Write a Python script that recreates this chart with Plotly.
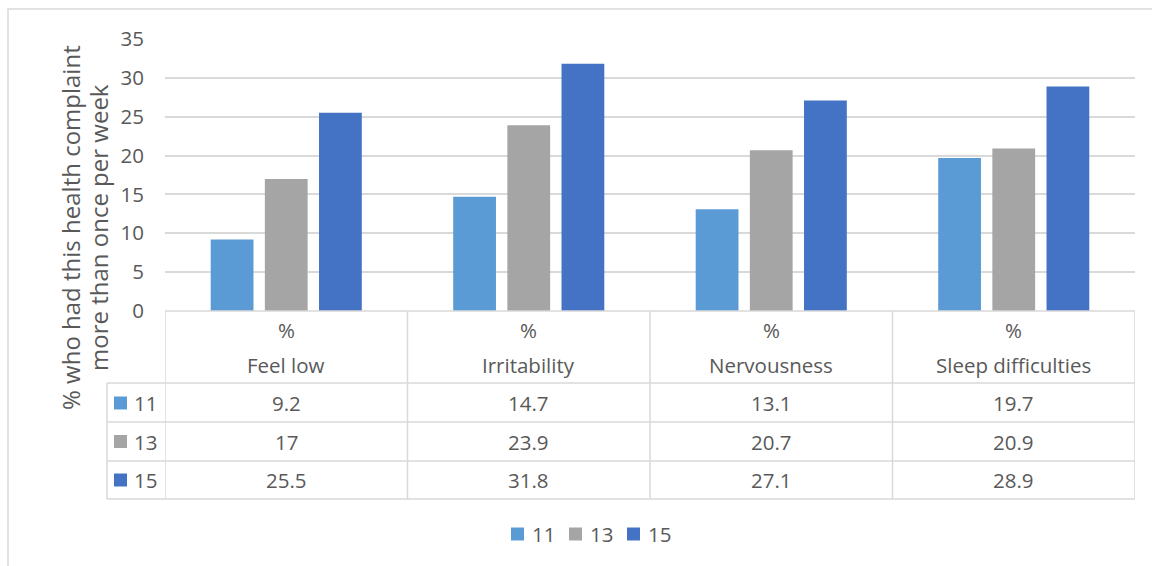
import plotly.graph_objects as go

# Weekly health complaints by age group (%)
categories = ["Feel low", "Irritability", "Nervousness", "Sleep difficulties"]
ages = ["11", "13", "15"]
age11 = [9.2, 14.7, 13.1, 19.7]
age13 = [17, 23.9, 20.7, 20.9]
age15 = [25.5, 31.8, 27.1, 28.9]
series = [age11, age13, age15]
colors = ["#5B9BD5", "#A5A5A5", "#4472C4"]
y_ticks = [0, 5, 10, 15, 20, 25, 30, 35]
y_title = ["% who had this health complaint", "more than once per week"]

W, H = 1152, 566
ML, MR, MT, MB = 165, 17, 39, 255
PW, PH = W - ML - MR, H - MT - MB
FONT = "Open Sans"
FS = 20.5
TXT = "#595959"
LINE = "#D9D9D9"


def px(x):
    return (x - ML) / PW


def py(y):
    return (H - MB - y) / PH


def label(x, y, text, xref="paper", xanchor="center", size=FS, angle=0):
    return dict(x=x, y=y, xref=xref, yref="paper", text=text, showarrow=False,
                xanchor=xanchor, yanchor="middle", textangle=angle,
                font=dict(size=size, color=TXT, family=FONT))


xs = list(range(len(categories)))
fig = go.Figure()
for name, vals, col in zip(ages, series, colors):
    fig.add_trace(go.Bar(x=xs, y=vals, name=name, marker=dict(color=col, line=dict(width=0)),
                         showlegend=False))

shapes = []
annotations = []

# data table grid
row_edges = [311, 383, 422, 461, 499]
for yy in row_edges[1:]:
    shapes.append(dict(type="line", xref="paper", yref="paper", x0=px(107), x1=1,
                       y0=py(yy), y1=py(yy), line=dict(color=LINE, width=1.5)))
shapes.append(dict(type="line", xref="paper", yref="paper", x0=0, x1=1,
                   y0=0, y1=0, line=dict(color=LINE, width=1.5)))
for i in range(len(categories) + 1):
    shapes.append(dict(type="line", xref="x", yref="paper", x0=i - 0.5, x1=i - 0.5,
                       y0=0, y1=py(499), line=dict(color=LINE, width=1.5)))
shapes.append(dict(type="line", xref="paper", yref="paper", x0=px(107), x1=px(107),
                   y0=py(383), y1=py(499), line=dict(color=LINE, width=1.5)))

# column headers
for i, c in enumerate(categories):
    annotations.append(label(i, py(330), "%", xref="x"))
    annotations.append(label(i, py(365), c, xref="x"))

# value rows with series keys
row_centers = [403, 441.5, 480]
for r, (name, vals, col) in enumerate(zip(ages, series, colors)):
    yc = row_centers[r]
    shapes.append(dict(type="rect", xref="paper", yref="paper", x0=px(114), x1=px(127),
                       y0=py(yc - 6.5), y1=py(yc + 6.5), fillcolor=col, line=dict(width=0)))
    annotations.append(label(px(132), py(yc), name, xanchor="left"))
    for i, v in enumerate(vals):
        annotations.append(label(i, py(yc), f"{v:g}", xref="x"))

# legend below the table
leg_x = [511, 569, 627]
for name, col, lx in zip(ages, colors, leg_x):
    shapes.append(dict(type="rect", xref="paper", yref="paper", x0=px(lx), x1=px(lx + 13),
                       y0=py(534 - 6.5), y1=py(534 + 6.5), fillcolor=col, line=dict(width=0)))
    annotations.append(label(px(lx + 19), py(534), name, xanchor="left"))

# y axis title (two lines)
for t, lx in zip(y_title, [70, 98]):
    annotations.append(label(px(lx), py(228), t, size=24, angle=-90))

# chart frame
shapes.append(dict(type="rect", xref="paper", yref="paper", x0=px(8), x1=px(1170),
                   y0=py(580), y1=py(9), line=dict(color=LINE, width=1.5), layer="below"))

fig.update_layout(
    width=W, height=H,
    margin=dict(l=ML, r=MR, t=MT, b=MB),
    paper_bgcolor="white", plot_bgcolor="white",
    barmode="group", bargap=0.33, bargroupgap=0.21,
    xaxis=dict(range=[-0.5, len(categories) - 0.5], showticklabels=False, showgrid=False,
               zeroline=False, fixedrange=True),
    yaxis=dict(range=[0, 35], tickvals=y_ticks, showgrid=True, gridcolor=LINE, gridwidth=1.5,
               zeroline=False, ticklabelstandoff=20,
               tickfont=dict(size=FS, color=TXT, family=FONT)),
    shapes=shapes, annotations=annotations,
)

fig.write_html("out.html")
